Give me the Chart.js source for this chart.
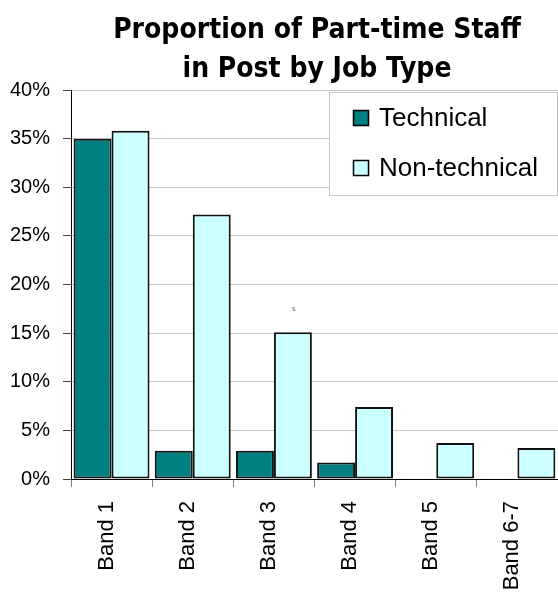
<!DOCTYPE html>
<html>
<head>
<meta charset="utf-8">
<title>Proportion of Part-time Staff in Post by Job Type</title>
<script src="https://cdn.jsdelivr.net/npm/chart.js@4/dist/chart.umd.min.js"></script>
<style>
  html, body { margin: 0; padding: 0; background: #ffffff; }
  #wrap { width: 558px; height: 595px; position: relative; }
</style>
</head>
<body>
<div id="wrap"><canvas id="chart" width="558" height="595"></canvas></div>
<script>
// Categories and series (percent of part-time staff in post)
const bands = ['Band 1', 'Band 2', 'Band 3', 'Band 4', 'Band 5', 'Band 6-7'];
const technical = [35.0, 2.9, 2.9, 1.7, 0, 0];
const nonTechnical = [35.8, 27.2, 15.1, 7.4, 3.7, 3.2];
const seriesNames = ['Technical', 'Non-technical'];
const titleLines = ['Proportion of Part-time Staff', 'in Post by Job Type'];
const yTicks = [0, 5, 10, 15, 20, 25, 30, 35, 40];
// Stray small label that sits above the Band 3 bars
const strayNote = { text: 's', band: 'Band 3', series: 1, value: 17.5 };

const colours = ['#008080', '#CCFFFF'];

// Title drawn as two centred lines
const titlePlugin = {
  id: 'twoLineTitle',
  afterDraw(chart) {
    const ctx = chart.ctx;
    ctx.save();
    ctx.fillStyle = '#000';
    ctx.font = 'bold 28px "DejaVu Sans Condensed", "DejaVu Sans", sans-serif';
    ctx.textAlign = 'center';
    ctx.textBaseline = 'alphabetic';
    const cx = 317;
    ctx.fillText(titleLines[0], cx, 38);
    ctx.fillText(titleLines[1], cx, 77);
    ctx.restore();
  }
};

// Boxed legend placed in the upper right of the plot
const boxLegend = {
  id: 'boxLegend',
  afterDraw(chart) {
    const ctx = chart.ctx;
    ctx.save();
    const bx = 329.5, by = 92.5, bw = 228, bh = 103;
    ctx.fillStyle = '#ffffff';
    ctx.fillRect(bx, by, bw, bh);
    ctx.strokeStyle = '#c8c8c8';
    ctx.lineWidth = 1;
    ctx.strokeRect(bx, by, bw, bh);
    ctx.font = '26px "Liberation Sans", Arial, sans-serif';
    ctx.textBaseline = 'middle';
    ctx.textAlign = 'left';
    chart.data.datasets.forEach((ds, i) => {
      const cy = 118 + i * 50;
      ctx.fillStyle = ds.backgroundColor;
      ctx.fillRect(353.5, cy - 7.5, 15, 15);
      ctx.strokeStyle = '#000';
      ctx.lineWidth = 1.5;
      ctx.strokeRect(353.5, cy - 7.5, 15, 15);
      ctx.fillStyle = '#000';
      ctx.fillText(ds.label, 379, cy + 1);
    });
    ctx.restore();
  }
};

// Tiny note text positioned from the bar it belongs to
const notePlugin = {
  id: 'strayNote',
  afterDatasetsDraw(chart) {
    const meta = chart.getDatasetMeta(strayNote.series);
    const bar = meta.data[bands.indexOf(strayNote.band)];
    const y = chart.scales.y.getPixelForValue(strayNote.value);
    const ctx = chart.ctx;
    ctx.save();
    ctx.fillStyle = '#555';
    ctx.font = '7px "DejaVu Sans", sans-serif';
    ctx.textAlign = 'center';
    ctx.textBaseline = 'middle';
    ctx.fillText(strayNote.text, bar.x + 1, y);
    ctx.restore();
  }
};

new Chart(document.getElementById('chart'), {
  type: 'bar',
  data: {
    labels: bands,
    datasets: [
      { label: seriesNames[0], data: technical, backgroundColor: colours[0] },
      { label: seriesNames[1], data: nonTechnical, backgroundColor: colours[1] }
    ].map(d => Object.assign(d, {
      borderColor: '#111',
      borderWidth: 2,
      borderSkipped: false,
      categoryPercentage: 0.935,
      barPercentage: 1.0
    }))
  },
  options: {
    responsive: false,
    animation: false,
    devicePixelRatio: 1,
    layout: { padding: { top: 90, left: 0, right: 0, bottom: 0 } },
    plugins: {
      legend: { display: false },
      title: { display: false },
      tooltip: { enabled: false }
    },
    scales: {
      x: {
        offset: true,
        afterFit(scale) {
          scale.height = 116;
          scale.paddingLeft = 0;
          scale.paddingRight = 0;
        },
        border: { color: '#000', width: 1 },
        grid: {
          offset: true,
          drawOnChartArea: false,
          drawTicks: true,
          tickLength: 8,
          tickColor: '#808080'
        },
        ticks: {
          color: '#000',
          font: { family: '"Liberation Sans", Arial, sans-serif', size: 22 },
          minRotation: 90,
          maxRotation: 90,
          padding: 14,
          labelOffset: -5,
          autoSkip: false
        }
      },
      y: {
        min: 0,
        max: 40,
        afterFit(scale) { scale.width = 71; },
        afterBuildTicks(scale) { scale.ticks = yTicks.map(v => ({ value: v })); },
        border: { color: '#000', width: 1 },
        grid: {
          color: '#c8c8c8',
          lineWidth: 1,
          tickLength: 8,
          tickColor: '#404040'
        },
        ticks: {
          color: '#000',
          font: { family: '"Liberation Sans", Arial, sans-serif', size: 20 },
          padding: 13,
          callback: v => v + '%'
        }
      }
    }
  },
  plugins: [notePlugin, boxLegend, titlePlugin]
});
</script>
</body>
</html>
